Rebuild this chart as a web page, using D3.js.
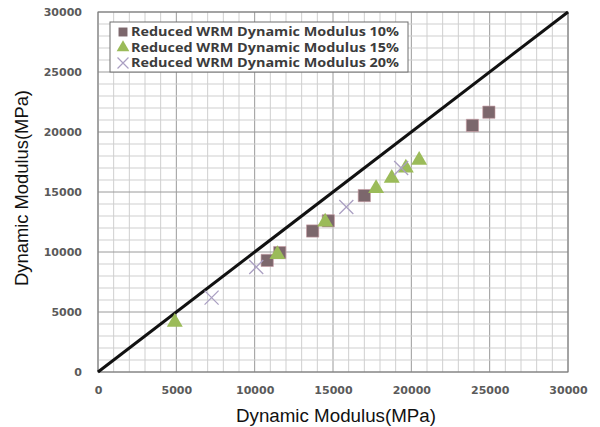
<!DOCTYPE html>
<html>
<head>
<meta charset="utf-8">
<script src="https://cdn.jsdelivr.net/npm/d3@7"></script>
<style>
  body { margin: 0; background: #fff; }
  svg { display: block; }
</style>
</head>
<body>
<div id="chart"></div>
<script>
// series values: [x, y]
const series10 = [[10800, 9300], [11600, 9950], [13700, 11750], [14700, 12600], [17000, 14700], [23900, 20550], [24950, 21650]];
const series15 = [[4900, 4150], [11450, 9800], [14500, 12500], [17750, 15300], [18750, 16150], [19650, 17000], [20500, 17650]];
const series20 = [[7250, 6200], [10100, 8750], [15850, 13750], [19350, 17000]];
const seriesNames = ["Reduced WRM Dynamic Modulus 10%", "Reduced WRM Dynamic Modulus 15%", "Reduced WRM Dynamic Modulus 20%"];
const tickValues = [0, 5000, 10000, 15000, 20000, 25000, 30000];
const equalityLine = [[0, 0], [30000, 30000]];

const width = 600, height = 427;
const margin = { left: 98, right: 32, top: 12, bottom: 55 };

const svg = d3.select("#chart").append("svg")
    .attr("width", width)
    .attr("height", height);

const x = d3.scaleLinear().domain([0, 30000]).range([margin.left, width - margin.right]);
const y = d3.scaleLinear().domain([0, 30000]).range([height - margin.bottom, margin.top]);

// minor grid every 1000, major every 5000
const minor = d3.range(0, 30001, 1000);
svg.append("g")
  .selectAll("line")
  .data(minor)
  .join("line")
    .attr("x1", d => x(d)).attr("x2", d => x(d))
    .attr("y1", y(0)).attr("y2", y(30000))
    .attr("stroke", d => d % 5000 === 0 ? "#9a9a9a" : "#cfcfcf")
    .attr("stroke-width", 1);
svg.append("g")
  .selectAll("line")
  .data(minor)
  .join("line")
    .attr("y1", d => y(d)).attr("y2", d => y(d))
    .attr("x1", x(0)).attr("x2", x(30000))
    .attr("stroke", d => d % 5000 === 0 ? "#9a9a9a" : "#cfcfcf")
    .attr("stroke-width", 1);

// plot border
svg.append("rect")
    .attr("x", x(0)).attr("y", y(30000))
    .attr("width", x(30000) - x(0)).attr("height", y(0) - y(30000))
    .attr("fill", "none").attr("stroke", "#7a7a7a");

// axes
const xAxis = svg.append("g")
    .attr("transform", `translate(0,${y(0)})`)
    .call(d3.axisBottom(x).tickValues(tickValues).tickSize(0).tickPadding(14).tickFormat(d3.format("d")));
const yAxis = svg.append("g")
    .attr("transform", `translate(${x(0)},0)`)
    .call(d3.axisLeft(y).tickValues(tickValues).tickSize(0).tickPadding(16).tickFormat(d3.format("d")));
[xAxis, yAxis].forEach(a => {
  a.select(".domain").remove();
  a.selectAll("text")
    .attr("fill", "#5a5a5a")
    .style("font", "bold 11px 'DejaVu Sans', sans-serif");
});

// axis titles (narrow, tall face in the original)
svg.append("text")
    .attr("x", 336)
    .attr("y", 422)
    .attr("text-anchor", "middle")
    .attr("textLength", 200)
    .attr("lengthAdjust", "spacingAndGlyphs")
    .attr("fill", "#111")
    .style("font", "18px 'Liberation Sans', Arial, sans-serif")
    .text("Dynamic Modulus(MPa)");
svg.append("text")
    .attr("transform", "translate(28,188) rotate(-90)")
    .attr("text-anchor", "middle")
    .attr("textLength", 196)
    .attr("lengthAdjust", "spacingAndGlyphs")
    .attr("fill", "#111")
    .style("font", "18px 'Liberation Sans', Arial, sans-serif")
    .text("Dynamic Modulus(MPa)");

// line of equality
svg.append("path")
    .datum(equalityLine)
    .attr("d", d3.line().x(d => x(d[0])).y(d => y(d[1])))
    .attr("stroke", "#111")
    .attr("stroke-width", 3)
    .attr("fill", "none");

// markers
const square = d3.symbol().type(d3.symbolSquare).size(150);
const triangle = d3.symbol().type(d3.symbolTriangle).size(110);
const cross = d3.symbol().type(d3.symbolTimes).size(130);

svg.append("g").selectAll("path")
  .data(series10)
  .join("path")
    .attr("transform", d => `translate(${x(d[0])},${y(d[1])})`)
    .attr("d", square)
    .attr("fill", "#7c676c")
    .attr("stroke", "#c79aa3")
    .attr("stroke-width", 0.6);

svg.append("g").selectAll("path")
  .data(series15)
  .join("path")
    .attr("transform", d => `translate(${x(d[0])},${y(d[1])})`)
    .attr("d", triangle)
    .attr("fill", "#9bbb59");

svg.append("g").selectAll("path")
  .data(series20)
  .join("path")
    .attr("transform", d => `translate(${x(d[0])},${y(d[1])})`)
    .attr("d", cross)
    .attr("fill", "none")
    .attr("stroke", "#aa9fc2")
    .attr("stroke-width", 1.3);

// legend
const legend = svg.append("g");
legend.append("rect")
    .attr("x", 110).attr("y", 22)
    .attr("width", 298).attr("height", 50)
    .attr("fill", "#fff")
    .attr("stroke", "#6e6e6e");

const legendMarks = [
  { d: d3.symbol().type(d3.symbolSquare).size(80)(), fill: "#7c676c", stroke: "none" },
  { d: d3.symbol().type(d3.symbolTriangle).size(70)(), fill: "#9bbb59", stroke: "none" },
  { d: d3.symbol().type(d3.symbolTimes).size(80)(), fill: "none", stroke: "#aa9fc2" }
];
seriesNames.forEach((name, i) => {
  const row = legend.append("g").attr("transform", `translate(123,${32 + i * 15.5})`);
  row.append("path")
      .attr("d", legendMarks[i].d)
      .attr("fill", legendMarks[i].fill)
      .attr("stroke", legendMarks[i].stroke)
      .attr("stroke-width", 1.2);
  row.append("text")
      .attr("x", 8)
      .attr("dy", "0.36em")
      .attr("fill", "#3c3c3c")
      .attr("textLength", 268)
      .attr("lengthAdjust", "spacingAndGlyphs")
      .style("font", "bold 11.5px 'Open Sans', sans-serif")
      .text(name);
});
</script>
</body>
</html>
